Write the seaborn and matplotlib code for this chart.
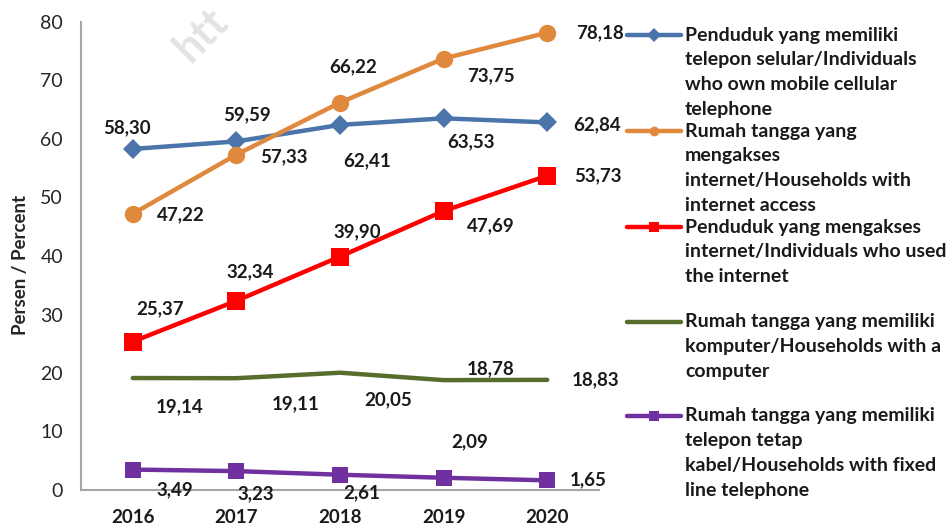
import pandas as pd
import seaborn as sns
import matplotlib.pyplot as plt
from matplotlib.lines import Line2D

# Data
years = ["2016", "2017", "2018", "2019", "2020"]
mobile_phone = [58.30, 59.59, 62.41, 63.53, 62.84]
hh_internet = [47.22, 57.33, 66.22, 73.75, 78.18]
ind_internet = [25.37, 32.34, 39.90, 47.69, 53.73]
hh_computer = [19.14, 19.11, 20.05, 18.78, 18.83]
hh_fixed_line = [3.49, 3.23, 2.61, 2.09, 1.65]

legend_texts = [
    ["Penduduk yang memiliki", "telepon selular/Individuals", "who own mobile cellular", "telephone"],
    ["Rumah tangga yang", "mengakses", "internet/Households with", "internet access"],
    ["Penduduk yang mengakses", "internet/Individuals who used", "the internet"],
    ["Rumah tangga yang memiliki", "komputer/Households with a", "computer"],
    ["Rumah tangga yang memiliki", "telepon tetap", "kabel/Households with fixed", "line telephone"],
]

# label offsets in pixels (dx, dy) relative to each point
offsets = [
    [(-6, 21), (11, 27), (27, -36), (27, -23), (50, -2)],
    [(48, -1), (48, -2), (13, 36), (47, -17), (53, 0)],
    [(27, 33), (14, 29), (17, 25), (47, -15), (51, 0)],
    [(47, -29), (59, -26), (48, -27), (47, 11), (48, 0)],
    [(42, -20), (19, -23), (22, -18), (26, 36), (41, 1)],
]

series = [mobile_phone, hh_internet, ind_internet, hh_computer, hh_fixed_line]
colors = ["#4a74aa", "#e0883c", "#ff0000", "#566d2c", "#7030a0"]
markers = ["D", "o", "s", None, "s"]
msizes = [10, 12.5, 12.5, 0, 11]

sns.set_style("white")
plt.rcParams['font.family'] = ['Lato', 'DejaVu Sans']

W, H = 949, 526
fig = plt.figure(figsize=(W / 100, H / 100), dpi=100)
ax = fig.add_axes([81 / W, 36 / H, (599 - 81) / W, (490 - 22) / H])

for vals, col, mk, ms in zip(series, colors, markers, msizes):
    df = pd.DataFrame({"year": years, "value": vals})
    sns.lineplot(data=df, x="year", y="value", color=col, linewidth=3.2,
                 marker=mk, markersize=ms, markeredgewidth=0, ax=ax)

for vals, offs in zip(series, offsets):
    for i, (v, (dx, dy)) in enumerate(zip(vals, offs)):
        ax.annotate(f"{v:.2f}".replace(".", ","), xy=(i, v), xytext=(dx, dy),
                    textcoords="offset pixels", ha="center", va="center",
                    fontsize=13.5, fontweight="bold", color="#1a1a1a")

ax.set_xlim(-0.5, 4.5)
ax.set_ylim(0, 80)
ax.set_yticks(range(0, 81, 10))
ax.tick_params(axis="y", labelsize=14, length=0, pad=13, colors="#262626")
ax.tick_params(axis="x", labelsize=13.5, length=0, pad=14, colors="#1a1a1a")
for lab in ax.get_xticklabels():
    lab.set_fontweight("bold")
ax.set_xlabel("")
ax.set_ylabel("Persen / Percent", fontsize=13.5, fontweight="bold")
ax.yaxis.set_label_coords(-52 / (599 - 81), 0.48)
sns.despine(ax=ax)
for s in ["left", "bottom"]:
    ax.spines[s].set_color("#a6a6a6")
    ax.spines[s].set_linewidth(1.5)


def fx(px):
    return px / W


def fy(py):
    return 1 - py / H


# legend built on the figure
leg_y = [35, 131, 227, 322, 416]
for col, mk, y0, lines in zip(colors, markers, leg_y, legend_texts):
    fig.add_artist(Line2D([fx(627), fx(654), fx(681)], [fy(y0)] * 3, color=col,
                          linewidth=3.2, marker=mk if mk else "", markersize=7,
                          markevery=[1], markeredgewidth=0,
                          transform=fig.transFigure))
    for j, txt in enumerate(lines):
        fig.text(fx(685), fy(y0 + 24.8 * j), txt, ha="left", va="center",
                 fontsize=14, fontweight="bold", color="#1a1a1a")

# watermark
fig.text(fx(190), fy(64), "htt", rotation=45,
         rotation_mode="anchor", ha="left", va="baseline", fontsize=31,
         fontweight="bold", color="#e3e3e3", zorder=0)

fig.savefig("out.png", dpi=100)
